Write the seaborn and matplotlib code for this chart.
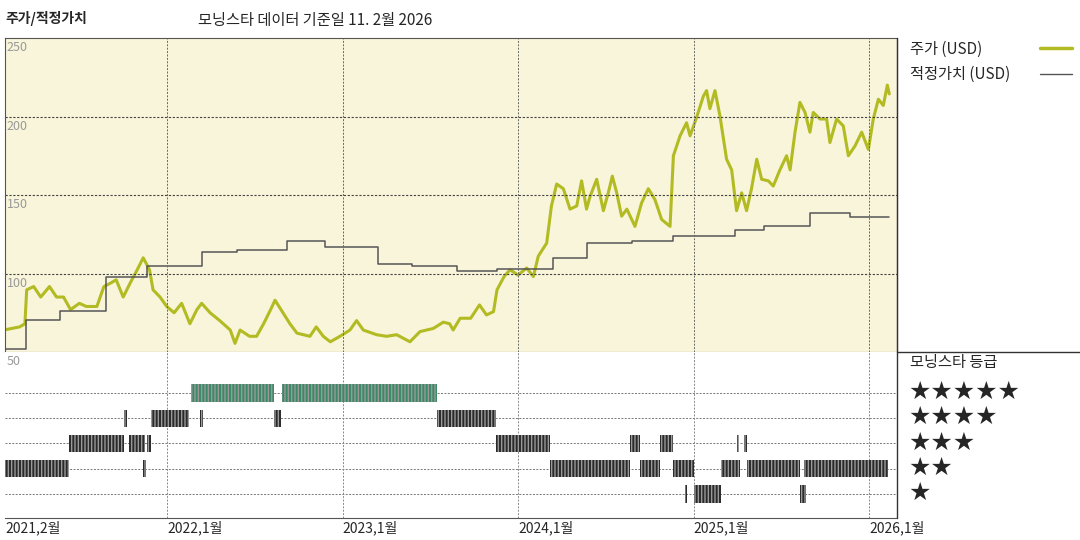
import numpy as np
import pandas as pd
import matplotlib
matplotlib.use("Agg")
import matplotlib.pyplot as plt
import seaborn as sns

sns.set_style("white")
plt.rcParams['font.family'] = ['Noto Sans CJK KR', 'DejaVu Sans']

# ---------------- data ----------------
price_t = [2021.07, 2021.16, 2021.19, 2021.20, 2021.24, 2021.28, 2021.33, 2021.37, 2021.41, 2021.45,
           2021.50, 2021.54, 2021.60, 2021.64, 2021.68, 2021.71, 2021.75, 2021.79, 2021.83, 2021.864,
           2021.90, 2021.92, 2021.96, 2021.998, 2022.04, 2022.083, 2022.13, 2022.17, 2022.197, 2022.245,
           2022.30, 2022.36, 2022.387, 2022.416, 2022.47, 2022.51, 2022.55, 2022.59, 2022.615, 2022.66,
           2022.70, 2022.74, 2022.814, 2022.85, 2022.89, 2022.93, 2022.985, 2023.042, 2023.08, 2023.118,
           2023.194, 2023.251, 2023.308, 2023.384, 2023.441, 2023.517, 2023.574,
           2023.61, 2023.63, 2023.67, 2023.73, 2023.78, 2023.82, 2023.86, 2023.88, 2023.92, 2023.954,
           2024.0, 2024.049, 2024.087, 2024.115, 2024.163, 2024.19, 2024.22, 2024.258, 2024.296, 2024.334,
           2024.362, 2024.39, 2024.41, 2024.448, 2024.486, 2024.514, 2024.537, 2024.562, 2024.59, 2024.62,
           2024.666, 2024.704, 2024.742, 2024.78, 2024.818, 2024.866, 2024.885, 2024.923, 2024.96, 2024.98,
           2025.017, 2025.056, 2025.074, 2025.093, 2025.122, 2025.15, 2025.188, 2025.217, 2025.245, 2025.274,
           2025.302, 2025.33, 2025.36, 2025.388, 2025.426, 2025.454, 2025.492, 2025.53, 2025.55, 2025.578,
           2025.606, 2025.635, 2025.663, 2025.682, 2025.72, 2025.758, 2025.777, 2025.815, 2025.853, 2025.882,
           2025.92, 2025.958, 2025.996, 2026.024, 2026.053, 2026.081, 2026.104, 2026.115]
price_v = [64, 66, 68, 89.6, 91.7, 85, 91.7, 85, 85, 77,
           81, 79, 79, 91.7, 94, 96, 85, 94, 102.4, 110,
           102.4, 89.6, 85, 79, 75, 81, 68, 77, 81, 75,
           70, 64, 55.5, 64, 60, 60, 68, 77, 83, 75,
           68, 62, 60, 66, 60, 56.5, 60, 64, 70, 64,
           61, 60, 61, 56.5, 63, 65, 69,
           68, 64, 71.5, 71.5, 80, 73.6, 75.7, 89.6, 98, 102.4,
           99, 103.5, 98, 111, 119.4, 143, 157, 154, 141, 143,
           159, 141, 149, 160, 140, 151.4, 162, 151.4, 136.5, 141,
           130, 145, 154, 147, 134.4, 130, 175, 187.7, 196, 187.7,
           199.4, 213, 216.5, 205, 216.5, 200.5, 172.8, 166, 140, 151.4,
           140, 154, 172.8, 160, 159, 155.7, 166, 175, 166, 190,
           209, 202.6, 190, 202.6, 198.4, 198.4, 183.4, 198.4, 194, 175,
           181.3, 190, 179, 198.4, 211, 207, 220, 214.4]

fair_t = [2021.05, 2021.196, 2021.39, 2021.65, 2021.884, 2022.197, 2022.397, 2022.682, 2022.9,
          2023.204, 2023.394, 2023.65, 2023.878, 2024.2, 2024.39, 2024.647, 2024.885, 2025.236,
          2025.4, 2025.663, 2025.891, 2026.115]
fair_v = [52.2, 70.4, 76, 97.7, 105, 113.7, 115.2, 120.5, 116.9,
          106, 105, 101.8, 103, 110, 119.4, 121, 124, 128,
          130.3, 138.3, 136.3, 136.3]

# Morningstar rating periods (start, end) in decimal years
rating_5 = [(2022.137, 2022.61), (2022.655, 2023.54)]
rating_4 = [(2021.755, 2021.77), (2021.91, 2022.125), (2022.19, 2022.205), (2022.61, 2022.65),
            (2023.54, 2023.875)]
rating_3 = [(2021.44, 2021.755), (2021.78, 2021.875), (2021.885, 2021.91), (2023.875, 2024.18),
            (2024.64, 2024.695), (2024.81, 2024.88), (2025.25, 2025.26), (2025.29, 2025.305)]
rating_2 = [(2021.065, 2021.44), (2021.865, 2021.88), (2024.18, 2024.64), (2024.695, 2024.81),
            (2024.88, 2025.0), (2025.155, 2025.265), (2025.305, 2025.605), (2025.63, 2026.11)]
rating_1 = [(2024.95, 2024.96), (2025.0, 2025.155), (2025.605, 2025.64)]

year_ticks = [2021.076, 2022.0, 2023.0, 2024.0, 2025.0, 2026.0]
year_labels = ["2021,2월", "2022,1월", "2023,1월", "2024,1월", "2025,1월", "2026,1월"]
price_ticks = [250, 200, 150, 100]

price_df = pd.DataFrame({"t": price_t, "v": price_v})
fair_df = pd.DataFrame({"t": fair_t, "v": fair_v})

# ---------------- figure ----------------
fig = plt.figure(figsize=(10.8, 5.4), dpi=100)
W, H = 1080, 540
x0, x1 = 5, 897
xlim = (2021.048 + x0 / 175.5, 2021.048 + x1 / 175.5)

ax = fig.add_axes([x0 / W, (H - 352) / H, (x1 - x0) / W, (352 - 38) / H])
axr = fig.add_axes([x0 / W, (H - 518) / H, (x1 - x0) / W, (518 - 352) / H])

ax.set_facecolor("#f8f5da")
sns.lineplot(data=price_df, x="t", y="v", ax=ax, color="#b3bb22", linewidth=2.2)
sns.lineplot(data=fair_df, x="t", y="v", ax=ax, color="#555555", linewidth=1.1,
             drawstyle="steps-post")
ax.set_xlim(*xlim)
ax.set_ylim(50, 250)
ax.set_xticks([])
ax.set_yticks([])
ax.set_xlabel("")
ax.set_ylabel("")
for y in [200, 150, 100]:
    ax.axhline(y, color="#444444", linestyle=(0, (2, 1.5)), linewidth=0.8)
for t in year_ticks[1:]:
    ax.axvline(t, color="#666666", linestyle=(0, (2, 1.5)), linewidth=0.7)
for v in price_ticks:
    ax.text(xlim[0] + 0.01, v - 2, str(v), color="#999999", fontsize=9, va="top", ha="left")
for s in ax.spines.values():
    s.set_color("#555555")
    s.set_linewidth(0.8)

# rating panel
rows = [(5, rating_5, "#3a8a66"), (4, rating_4, "#2a2a2a"), (3, rating_3, "#2a2a2a"),
        (2, rating_2, "#2a2a2a"), (1, rating_1, "#2a2a2a")]
for star, periods, col in rows:
    axr.axhline(star, color="#777777", linestyle=(0, (2, 1.5)), linewidth=0.7, zorder=0)
    axr.broken_barh([(a, b - a) for a, b in periods], (star - 0.34, 0.68),
                    facecolors=col, edgecolor="#9a9a9a", hatch="|||||", linewidth=0, zorder=2)
for t in year_ticks[1:]:
    axr.axvline(t, color="#888888", linestyle=(0, (2, 1.5)), linewidth=0.7, zorder=0)
axr.set_xlim(*xlim)
axr.set_ylim(0.05, 6.62)
axr.set_yticks([])
axr.set_xticks(year_ticks)
axr.set_xticklabels(year_labels, ha="left", fontsize=10)
axr.tick_params(axis="x", length=0, pad=2)
axr.text(xlim[0] + 0.01, 6.5, "50", color="#999999", fontsize=9, va="top")
for k in ["top", "right", "left"]:
    axr.spines[k].set_visible(False)
axr.spines["bottom"].set_color("#555555")

# right side legend / labels
fig.add_artist(plt.Line2D([x1 / W, x1 / W], [(H - 38) / H, (H - 518) / H],
                          color="#333333", linewidth=1))
fig.add_artist(plt.Line2D([x1 / W, 1], [(H - 352) / H, (H - 352) / H], color="#333333", linewidth=1))
fig.text(910 / W, (H - 49) / H, "주가 (USD)", fontsize=11, va="center")
fig.add_artist(plt.Line2D([1040 / W, 1072 / W], [(H - 48) / H] * 2, color="#b3bb22", linewidth=2.5))
fig.text(910 / W, (H - 74) / H, "적정가치 (USD)", fontsize=11, va="center")
fig.add_artist(plt.Line2D([1040 / W, 1072 / W], [(H - 74) / H] * 2, color="#555555", linewidth=1))
fig.text(910 / W, (H - 362) / H, "모닝스타 등급", fontsize=11, va="center")
for i, star in enumerate([5, 4, 3, 2, 1]):
    fig.text(908 / W, (H - (392 + 25.25 * i)) / H, "★" * star, fontsize=18, va="center",
             family=["DejaVu Sans"])

fig.text(5 / W, (H - 18) / H, "주가/적정가치", fontsize=10, fontweight="bold", va="center")
fig.text(198 / W, (H - 20) / H, "모닝스타 데이터 기준일 11. 2월 2026", fontsize=11, va="center")

fig.savefig("out.png", dpi=100)
